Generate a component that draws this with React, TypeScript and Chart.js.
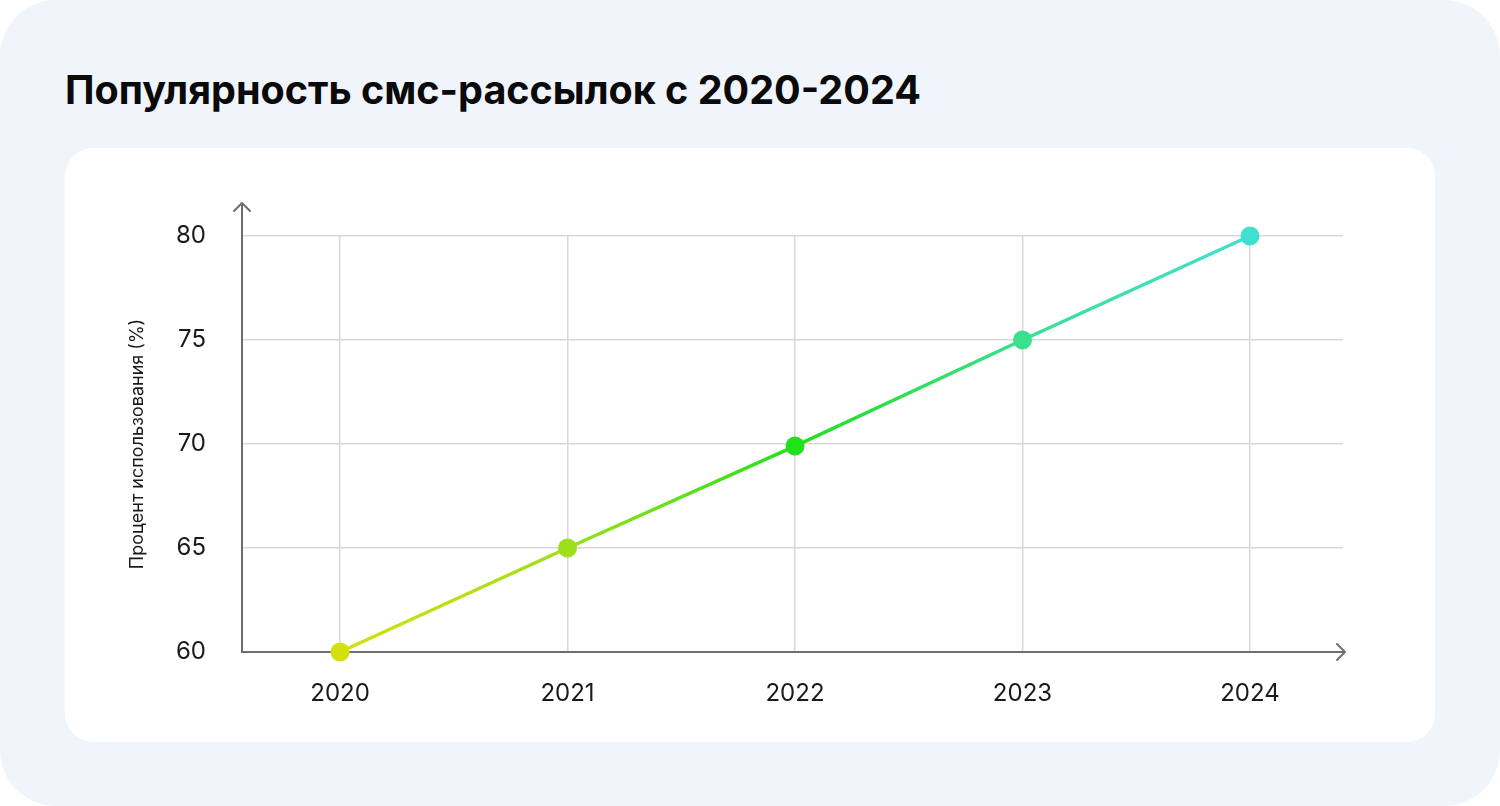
import React, { useEffect, useRef } from 'react';
import { Chart, registerables } from 'chart.js';

Chart.register(...registerables);

const years = [2020, 2021, 2022, 2023, 2024];
const usagePercent = [60, 65, 69.9, 75, 80];
const yTicks = [60, 65, 70, 75, 80];

const pointColors = ['#d4e00c', '#9be01a', '#22e01c', '#38e090', '#40e0d0'];
const AXIS = '#6e6e6e';
const GRID = '#d9d9d9';
const FONT = 'Inter, "Noto Sans", sans-serif';

// arrows on the ends of both axes
const axisArrows = {
  id: 'axisArrows',
  afterDraw(chart: Chart) {
    const { ctx, chartArea } = chart;
    const { left, right, top, bottom } = chartArea;
    ctx.save();
    ctx.strokeStyle = AXIS;
    ctx.lineWidth = 2;
    ctx.lineCap = 'round';
    ctx.lineJoin = 'round';
    // y axis extension + head
    const tipY = top - 33;
    ctx.beginPath();
    ctx.moveTo(left, top);
    ctx.lineTo(left, tipY);
    ctx.moveTo(left - 8, tipY + 8);
    ctx.lineTo(left, tipY);
    ctx.lineTo(left + 8, tipY + 8);
    // x axis head
    const tipX = right + 2;
    ctx.moveTo(right, bottom);
    ctx.lineTo(tipX, bottom);
    ctx.moveTo(tipX - 8, bottom - 8);
    ctx.lineTo(tipX, bottom);
    ctx.lineTo(tipX - 8, bottom + 8);
    ctx.stroke();
    ctx.restore();
  },
};

const App: React.FC = () => {
  const canvasRef = useRef<HTMLCanvasElement>(null);
  const chartRef = useRef<Chart | null>(null);

  useEffect(() => {
    if (!canvasRef.current) return;
    if (chartRef.current) chartRef.current.destroy();

    const lineGradient = (context: any) => {
      const chart = context.chart;
      const xs = chart.scales.x;
      if (!xs || !chart.chartArea) return pointColors[0];
      const x0 = xs.getPixelForValue(years[0]);
      const x1 = xs.getPixelForValue(years[years.length - 1]);
      const g = chart.ctx.createLinearGradient(x0, 0, x1, 0);
      pointColors.forEach((c, i) => g.addColorStop(i / (pointColors.length - 1), c));
      return g;
    };

    chartRef.current = new Chart(canvasRef.current, {
      type: 'line',
      data: {
        datasets: [
          {
            label: 'Процент использования (%)',
            data: years.map((y, i) => ({ x: y, y: usagePercent[i] })),
            borderColor: lineGradient,
            borderWidth: 3.5,
            pointRadius: 9.5,
            pointHoverRadius: 9.5,
            pointBorderWidth: 0,
            pointBackgroundColor: pointColors,
            tension: 0,
            clip: false as any,
          },
        ],
      },
      options: {
        animation: false,
        responsive: true,
        maintainAspectRatio: false,
        layout: { padding: { left: 62, right: 92, top: 88, bottom: 0 } },
        plugins: {
          legend: { display: false },
          tooltip: { enabled: false },
        },
        scales: {
          x: {
            type: 'linear',
            min: 2019.569,
            max: 2024.409,
            afterFit: (scale: any) => {
              scale.height = 90;
            },
            afterBuildTicks: (scale: any) => {
              scale.ticks = years.map((v) => ({ value: v }));
            },
            ticks: {
              padding: 27,
              color: '#1a1a1a',
              font: { family: FONT, size: 24 },
              callback: (v: any) => String(v),
            },
            grid: { color: GRID, lineWidth: 1.5, drawTicks: false },
            border: { color: AXIS, width: 2 },
          },
          y: {
            min: 60,
            max: 80,
            afterFit: (scale: any) => {
              scale.width = 115;
            },
            afterBuildTicks: (scale: any) => {
              scale.ticks = yTicks.map((v) => ({ value: v }));
            },
            ticks: {
              padding: 36,
              color: '#1a1a1a',
              font: { family: FONT, size: 24 },
            },
            grid: { color: GRID, lineWidth: 1.5, drawTicks: false },
            border: { color: AXIS, width: 2 },
            title: {
              display: true,
              text: 'Процент использования (%)',
              color: '#1a1a1a',
              font: { family: FONT, size: 18 },
              padding: 0,
            },
          },
        },
      },
      plugins: [axisArrows],
    });

    return () => {
      if (chartRef.current) {
        chartRef.current.destroy();
        chartRef.current = null;
      }
    };
  }, []);

  return (
    <div
      style={{
        position: 'absolute',
        left: 0,
        top: 0,
        width: 1500,
        height: 806,
        background: '#f0f5fb',
        borderRadius: 56,
        fontFamily: FONT,
      }}
    >
      <div
        style={{
          position: 'absolute',
          left: 65,
          top: 71,
          fontSize: 39.5,
          lineHeight: '39.5px',
          fontWeight: 700,
          color: '#0a0a0a',
          whiteSpace: 'nowrap',
        }}
      >
        Популярность смс-рассылок с 2020-2024
      </div>
      <div
        style={{
          position: 'absolute',
          left: 65,
          top: 148,
          width: 1370,
          height: 594,
          background: '#ffffff',
          borderRadius: 28,
        }}
      >
        <div style={{ position: 'relative', width: 1370, height: 594 }}>
          <canvas ref={canvasRef}></canvas>
        </div>
      </div>
    </div>
  );
};

export default App;
